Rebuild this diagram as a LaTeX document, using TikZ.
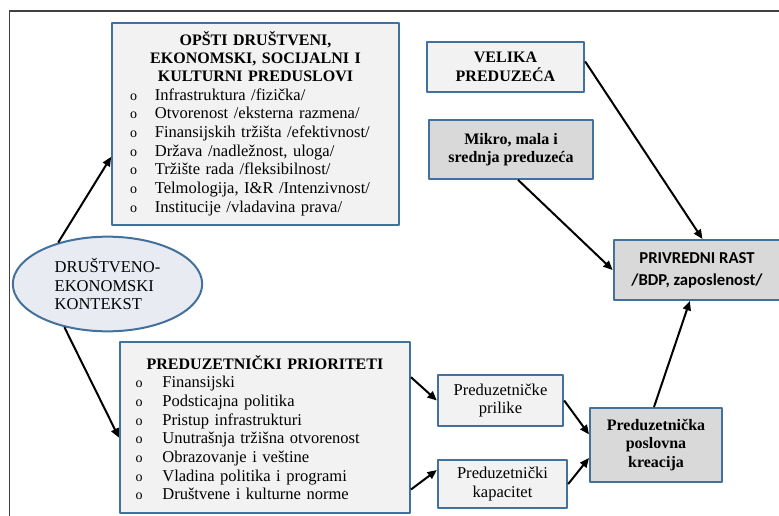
\documentclass[tikz,border=0pt]{standalone}
\usepackage{fontspec}
\setmainfont{Liberation Serif}
\newfontfamily\calibri{Carlito}
\usetikzlibrary{shapes.geometric,arrows.meta}
\definecolor{rub}{RGB}{65,113,156}
\definecolor{svetla}{RGB}{242,242,242}
\definecolor{tamna}{RGB}{217,217,217}
\definecolor{elips}{RGB}{232,235,242}
\definecolor{okvir}{RGB}{64,64,64}
\newcommand\bul{\makebox[18.5pt][l]{\fontsize{10.5pt}{14pt}\selectfont o}}
\newcommand\bull{\makebox[20pt][l]{\fontsize{10.5pt}{14pt}\selectfont o}}
\tikzset{
  kutija/.style={draw=rub, line width=1.5pt, fill=svetla, inner sep=0pt,
    font=\fontsize{12.4pt}{14pt}\selectfont},
  tkutija/.style={kutija, fill=tamna},
  strel/.style={-{Triangle[length=7pt,width=6pt]}, line width=1.5pt}
}
\begin{document}
\begin{tikzpicture}[x=0.75pt, y=-0.75pt, line join=round]
		\useasboundingbox (0,0) rectangle (779,515);
		% okvir slike
		\draw[okvir, line width=1.2pt] (779,11)--(9.5,11)--(9.5,520);
		% levo
		\node[ellipse, draw=rub, line width=1.5pt, fill=elips, minimum width=142pt, minimum height=71pt, inner sep=0pt,
			font=\fontsize{12.4pt}{14pt}\selectfont, align=left] (ell) at (107.5,284) {DRUŠTVENO-\\EKONOMSKI\\KONTEKST};
		\node[kutija, minimum width=215pt, minimum height=151.5pt, text width=188pt, align=left] (b1) at (255.5,123.5)
			{{\centering\fontsize{12pt}{13.5pt}\selectfont\bfseries OPŠTI DRUŠTVENI,\\EKONOMSKI, SOCIJALNI I\\KULTURNI PREDUSLOVI\par}
			\bul Infrastruktura /fizička/\\
			\bul Otvorenost /eksterna razmena/\\
			\bul Finansijskih tržišta /efektivnost/\\
			\bul Država /nadležnost, uloga/\\
			\bul Tržište rada /fleksibilnost/\\
			\bul Telmologija, I\&R /Intenzivnost/\\
			\bul Institucije /vladavina prava/};
		\node[kutija, minimum width=217.5pt, minimum height=128pt, text width=194pt, align=left] (b2) at (265,427.5)
			{{\centering\fontsize{12pt}{14pt}\selectfont\bfseries PREDUZETNIČKI PRIORITETI\par}
			\bull Finansijski\\
			\bull Podsticajna politika\\
			\bull Pristup infrastrukturi\\
			\bull Unutrašnja tržišna otvorenost\\
			\bull Obrazovanje i veštine\\
			\bull Vladina politika i programi\\
			\bull Društvene i kulturne norme};
		% desno
		\node[kutija, minimum width=118pt, minimum height=37.5pt, align=center, font=\fontsize{12pt}{14pt}\selectfont\bfseries] (vel) at (505.5,67) {VELIKA\\PREDUZEĆA};
		\node[tkutija, minimum width=123pt, minimum height=44pt, align=center, font=\fontsize{12pt}{14pt}\selectfont\bfseries] (mikro) at (511,149.5) {Mikro, mala i\\srednja preduzeća};
		\node[tkutija, minimum width=125pt, minimum height=45pt, align=center, font=\fontsize{12.5pt}{16.5pt}\selectfont\calibri\bfseries] (rast) at (697,270) {PRIVREDNI RAST\\/BDP, zaposlenost/};
		\node[kutija, minimum width=94pt, minimum height=38pt, align=center] (pril) at (500.5,400.5) {Preduzetničke\\prilike};
		\node[kutija, minimum width=97pt, minimum height=36pt, align=center] (kap) at (502.5,484) {Preduzetnički\\kapacitet};
		\node[tkutija, minimum width=99pt, minimum height=55.5pt, align=center, font=\fontsize{12pt}{14pt}\selectfont\bfseries] (kre) at (656,445) {Preduzetnička\\poslovna\\kreacija};
		% strelice
		\draw[strel] (ell.140)--(b1.193);
		\draw[strel] (ell.225)--(b2.184);
		\draw[strel] (vel.4)--(rast.80);
		\draw[strel] (mikro.283)--(rast.west);
		\draw[strel] (b2.19)--(pril.west);
		\draw[strel] (b2.-23)--(kap.168);
		\draw[strel] (pril.east)--(kre.171);
		\draw[strel] (kap.east)--(kre.191);
		\draw[strel] (kre.93)--(rast.257);
\end{tikzpicture}
\end{document}
